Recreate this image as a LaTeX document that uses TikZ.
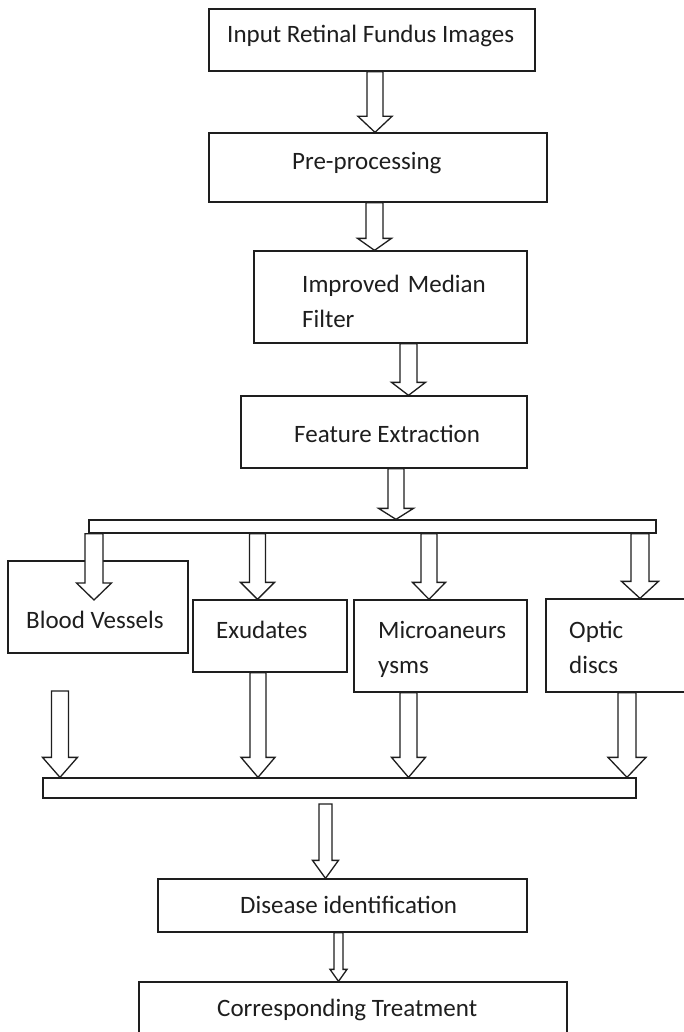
\documentclass[tikz,border=0pt]{standalone}
\usepackage{fontspec}
\setmainfont{Carlito}
\usetikzlibrary{calc}
\definecolor{ink}{HTML}{1E1E1E}

% rectangle node given by its corners (x1,y1) and (x2,y2), y measured downwards
\newcommand\flowbox[5]{%
  \node[box, minimum width={#4-#2}, minimum height={#5-#3}] (#1)
    at ({(#2+#4)/2},{(#3+#5)/2}) {};}

% hollow block arrow: from, to, shaft centre x, shaft half width, head half width, head length
\newcommand\hollowarrow[6]{%
  \draw[hollow] let \p1=(#3,0 |- #1), \p2=(#3,0 |- #2) in
    (\x1-#4pt,\y1) -- (\x1+#4pt,\y1) -- (\x1+#4pt,\y2+#6pt) -- (\x1+#5pt,\y2+#6pt)
    -- (\x2,\y2) -- (\x1-#5pt,\y2+#6pt) -- (\x1-#4pt,\y2+#6pt) -- cycle;}

\begin{document}
\begin{tikzpicture}[x=1pt,y=-1pt,
  box/.style={draw=ink, line width=1.3pt, fill=white, inner sep=0pt, rectangle},
  txt/.style={inner sep=0pt, anchor=base west, text=ink,
              font=\fontsize{25}{35.5}\selectfont},
  hollow/.style={draw=ink, line width=1.3pt, fill=white, line join=miter}]

\useasboundingbox (0,0) rectangle (684,1032);
\clip (0,0) rectangle (684,1032);
\fill[white] (0,0) rectangle (684,1032);

% process boxes
\flowbox{in}{209}{9}{535}{71}
\flowbox{pre}{209}{133}{547}{202}
\flowbox{imf}{254}{251}{527}{343}
\flowbox{feat}{241}{396}{527}{468}
\flowbox{split}{89}{520}{656}{533}
\flowbox{blood}{8}{561}{188}{653}
\flowbox{exu}{193}{600}{347}{672}
\flowbox{micro}{354}{600}{527}{692}
\flowbox{optic}{546}{599}{700}{692}
\flowbox{merge}{43}{778}{636}{798}
\flowbox{dis}{158}{879}{527}{932}
\flowbox{treat}{139}{982}{567}{1040}

% labels
\node[txt] (in-t) at (227,43) {Input Retinal Fundus Images};
\node[txt] (pre-t) at (292,170) {Pre-processing};
\node[txt, text width=220pt, align=left] (imf-t) at (302,292) {Improved Median\\Filter};
\node[txt] (feat-t) at (294,442) {Feature Extraction};
\node[txt] (blood-t) at (26,628) {Blood Vessels};
\node[txt] (exu-t) at (216,638) {Exudates};
\node[txt, text width=160pt, align=left] (micro-t) at (378,638) {Microaneurs\\ysms};
\node[txt, text width=100pt, align=left] (optic-t) at (569,638) {Optic\\discs};
\node[txt] (dis-t) at (240,913) {Disease identification};
\node[txt] (treat-t) at (217,1016) {Corresponding Treatment};

% free ends of connectors
\coordinate (bloodtip) at (94,600);
\coordinate (loose) at (60,691);
\coordinate (mergeout) at (325.5,804);

% main chain
\hollowarrow{in.south}{pre.north}{375}{8}{17}{16}
\hollowarrow{pre.south}{imf.north}{374.5}{8.5}{17}{12}
\hollowarrow{imf.south}{feat.north}{408.5}{8.5}{17}{13}
\hollowarrow{feat.south}{split.north}{396}{8}{17.5}{11}

% split into the four features
\hollowarrow{split.south}{bloodtip}{94}{9}{17.5}{17}
\hollowarrow{split.south}{exu.north}{257.5}{8}{17}{17}
\hollowarrow{split.south}{micro.north}{429}{8}{16.5}{17}
\hollowarrow{split.south}{optic.north}{640}{9}{18.5}{17}

% merge
\hollowarrow{loose}{merge.north}{60}{8.5}{17.5}{20}
\hollowarrow{exu.south}{merge.north}{258}{8}{17}{20}
\hollowarrow{micro.south}{merge.north}{408.5}{8.5}{17}{20}
\hollowarrow{optic.south}{merge.north}{627}{9}{19}{20}

% result
\hollowarrow{mergeout}{dis.north}{325.5}{6.5}{13}{18}
\hollowarrow{dis.south}{treat.north}{338.5}{4.5}{8.5}{12}
\end{tikzpicture}
\end{document}
